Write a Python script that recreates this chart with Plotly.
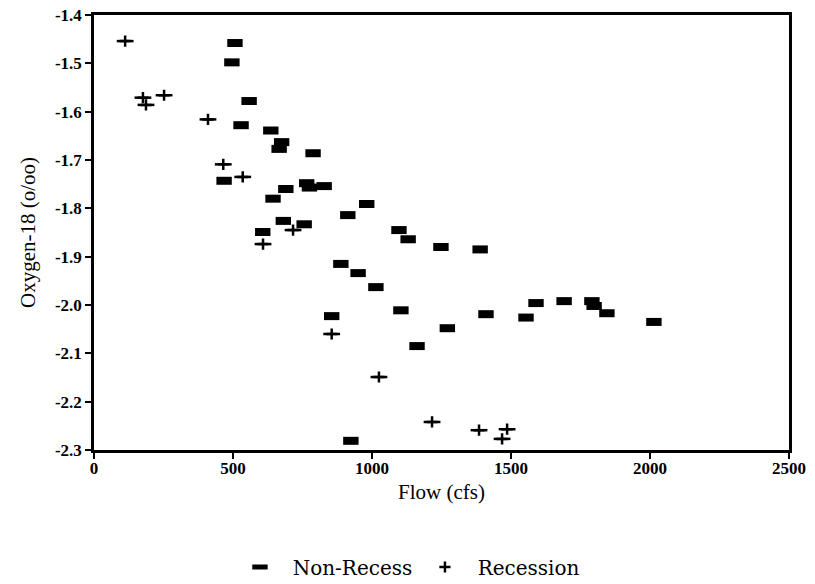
import plotly.graph_objects as go

# Non-recession samples: flow (cfs) and oxygen-18 (o/oo)
non_recess_flow = [507, 496, 558, 529, 636, 675, 666, 468, 690, 644, 788, 765, 775, 828,
                   981, 913, 681, 756, 607, 1097, 1130, 1248, 1389, 888, 950, 1014, 1590,
                   1104, 1410, 1554, 855, 1271, 1162, 924, 1691, 1791, 1799, 1845, 2014]
non_recess_o18 = [-1.458, -1.498, -1.578, -1.628, -1.639, -1.663, -1.677, -1.743, -1.760,
                  -1.780, -1.686, -1.748, -1.757, -1.754, -1.791, -1.814, -1.826, -1.833,
                  -1.849, -1.845, -1.864, -1.880, -1.885, -1.915, -1.934, -1.963, -1.996,
                  -2.011, -2.019, -2.026, -2.023, -2.048, -2.085, -2.281, -1.992, -1.992,
                  -2.002, -2.017, -2.035]

# Recession samples
recession_flow = [112, 176, 187, 252, 410, 465, 535, 608, 716, 855, 1025, 1216, 1385, 1486, 1468]
recession_o18 = [-1.454, -1.571, -1.586, -1.566, -1.616, -1.709, -1.735, -1.874, -1.845,
                 -2.060, -2.149, -2.242, -2.259, -2.257, -2.277]

x_ticks = [0, 500, 1000, 1500, 2000, 2500]
y_ticks = [-1.4, -1.5, -1.6, -1.7, -1.8, -1.9, -2.0, -2.1, -2.2, -2.3]

SERIF = "Liberation Serif"
NBSP = "\u00a0"

fig = go.Figure()
fig.add_trace(go.Scatter(
    x=non_recess_flow, y=non_recess_o18, mode="markers", name=NBSP * 2 + "Non-Recess",
    marker=dict(symbol="line-ew", size=11, color="black",
                line=dict(color="black", width=8)),
))
# Recession "+" marks: a short vertical stroke plus a wider horizontal bar
fig.add_trace(go.Scatter(
    x=recession_flow, y=recession_o18, mode="markers", name=NBSP * 2 + "Recession",
    marker=dict(symbol="cross-thin", size=8, color="black",
                line=dict(color="black", width=2.5)),
))
fig.add_trace(go.Scatter(
    x=recession_flow, y=recession_o18, mode="markers", showlegend=False,
    hoverinfo="skip",
    marker=dict(symbol="line-ew", size=12, color="black",
                line=dict(color="black", width=2.5)),
))

axis_common = dict(
    showgrid=False, zeroline=False, showline=True, linecolor="black", linewidth=2.5,
    mirror=True, ticks="outside", ticklen=6, tickwidth=2, tickcolor="black",
    tickfont=dict(family=SERIF, size=17, color="black", weight="bold"),
    automargin=False,
)

fig.update_layout(
    width=815, height=584,
    margin=dict(l=94, r=26, t=15, b=134, autoexpand=False),
    paper_bgcolor="white", plot_bgcolor="white",
    xaxis=dict(range=[0, 2500], tickvals=x_ticks, ticktext=[str(v) for v in x_ticks],
               ticklabelstandoff=-5,
               title=dict(text="Flow (cfs)", font=dict(family=SERIF, size=21, color="black"),
                          standoff=8),
               **axis_common),
    yaxis=dict(range=[-2.3, -1.4], tickvals=y_ticks,
               ticktext=[f"{v:.1f}" for v in y_ticks],
               title=dict(text="Oxygen-18 (o/oo)", font=dict(family=SERIF, size=21, color="black"),
                          standoff=14),
               **axis_common),
    legend=dict(orientation="h", x=0.21, xanchor="left", y=-0.269, yanchor="middle",
                font=dict(family="DejaVu Serif", size=20, color="black"),
                itemsizing="trace", entrywidth=140),
    showlegend=True,
)

fig.write_html("out.html")
